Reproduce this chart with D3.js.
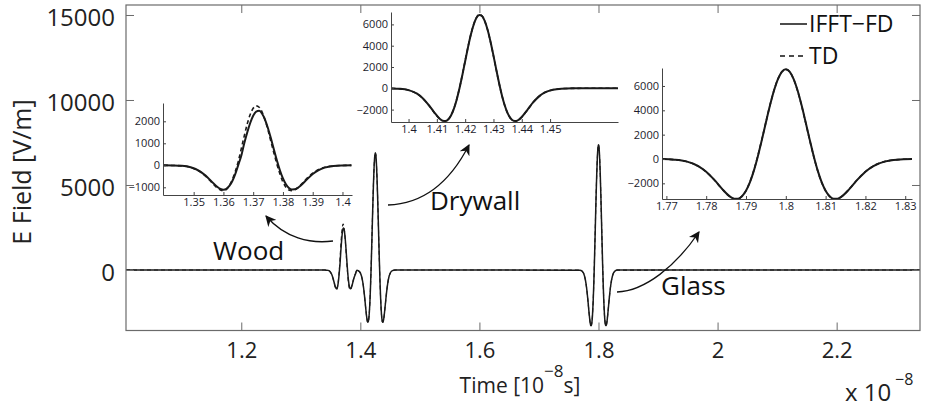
<!DOCTYPE html>
<html>
<head>
<meta charset="utf-8">
<script src="https://cdn.jsdelivr.net/npm/d3@7"></script>
<style>
  body { margin: 0; background: #fff; }
  svg { display: block; font-family: "Open Sans", "Noto Sans", sans-serif; }
</style>
</head>
<body>
<script>
// Time axis values are in units of 1e-8 s, fields in V/m

// Wood reflection (inset 1)
const woodT = [1.340, 1.343, 1.346, 1.349, 1.352, 1.354, 1.356, 1.358, 1.359, 1.360,
  1.361, 1.362, 1.363, 1.364, 1.365, 1.366, 1.367, 1.368, 1.369, 1.370,
  1.371, 1.372, 1.373, 1.374, 1.375, 1.376, 1.377, 1.378, 1.379, 1.380,
  1.381, 1.382, 1.383, 1.384, 1.385, 1.386, 1.388, 1.390, 1.392, 1.394,
  1.397, 1.400, 1.403];
const woodFD = [-3, -8, -24, -89, -263, -468, -732, -986, -1073, -1107,
  -1068, -940, -714, -389, 20, 430, 1000, 1494, 1923, 2250,
  2440, 2475, 2344, 2068, 1675, 1203, 699, 207, -234, -596,
  -862, -1028, -1101, -1094, -1026, -917, -649, -399, -217, -105,
  -29, -8, -2];
const woodTD = [-3, -10, -26, -95, -280, -495, -770, -1040, -1120, -1150,
  -1090, -920, -650, -270, 180, 760, 1330, 1880, 2310, 2590,
  2700, 2640, 2420, 2060, 1590, 1060, 540, 40, -400, -760,
  -1000, -1120, -1150, -1110, -1020, -890, -600, -360, -190, -90,
  -25, -6, -2];

// Drywall reflection (inset 2)
const drywallT = [1.394, 1.397, 1.400, 1.403, 1.405, 1.407, 1.409, 1.411, 1.412, 1.413,
  1.414, 1.415, 1.416, 1.417, 1.418, 1.419, 1.420, 1.421, 1.422, 1.423,
  1.424, 1.425, 1.426, 1.427, 1.428, 1.429, 1.430, 1.431, 1.432, 1.433,
  1.434, 1.435, 1.436, 1.437, 1.438, 1.439, 1.440, 1.442, 1.444, 1.446,
  1.448, 1.451, 1.454, 1.458, 1.464, 1.474];
const drywallFD = [-10, -46, -171, -506, -926, -1525, -2231, -2852, -3035, -3073,
  -2922, -2547, -1931, -1071, 0, 1231, 2543, 3840, 5017, 5970,
  6616, 6889, 6773, 6269, 5430, 4331, 3070, 1751, 477, -666,
  -1614, -2330, -2800, -3037, -3070, -2939, -2690, -2015, -1328, -781,
  -414, -133, -35, -5, 0, 0];
const drywallTD = [-10, -50, -180, -520, -940, -1540, -2250, -2870, -3050, -3080,
  -2930, -2550, -1920, -1050, 30, 1270, 2590, 3880, 5050, 6000,
  6640, 6920, 6790, 6270, 5420, 4310, 3040, 1720, 450, -690,
  -1630, -2350, -2820, -3050, -3080, -2950, -2700, -2020, -1330, -785,
  -415, -135, -36, -5, 0, 0];

// Glass reflection (inset 3)
const glassT = [1.769, 1.772, 1.775, 1.778, 1.780, 1.782, 1.784, 1.786, 1.787, 1.788,
  1.789, 1.790, 1.791, 1.792, 1.793, 1.794, 1.795, 1.796, 1.797, 1.798,
  1.799, 1.800, 1.801, 1.802, 1.803, 1.804, 1.805, 1.806, 1.807, 1.808,
  1.809, 1.810, 1.811, 1.812, 1.813, 1.814, 1.816, 1.818, 1.820, 1.822,
  1.825, 1.828, 1.8317];
const glassFD = [-10, -54, -195, -578, -1045, -1700, -2459, -3095, -3263, -3268,
  -3061, -2610, -1898, -933, 252, 1591, 2998, 4367, 5584, 6543,
  7158, 7370, 7158, 6543, 5584, 4367, 2998, 1591, 252, -933,
  -1898, -2610, -3061, -3268, -3263, -3095, -2459, -1700, -1045, -578,
  -195, -54, -6];
const glassTD = [-10, -56, -200, -585, -1050, -1710, -2470, -3100, -3270, -3270,
  -3050, -2590, -1870, -900, 290, 1630, 3030, 4390, 5600, 6550,
  7160, 7365, 7150, 6530, 5560, 4340, 2970, 1560, 220, -960,
  -1920, -2625, -3070, -3270, -3260, -3090, -2450, -1690, -1040, -575,
  -195, -54, -6];

// Main axes ticks
const xTicksMain = [1.2, 1.4, 1.6, 1.8, 2.0, 2.2];
const yTicksMain = [0, 5000, 10000, 15000];
const xDomainMain = [1.0064, 2.340];
const yDomainMain = [-3559, 15588];

// Annotations
const labels = [
  { text: "Wood", x: 213, y: 260 },
  { text: "Drywall", x: 430, y: 210 },
  { text: "Glass", x: 661, y: 295 }
];

const width = 929;
const height = 408;
const frame = { left: 126, right: 920, top: 5, bottom: 330.5 };

const svg = d3.select("body").append("svg")
  .attr("width", width)
  .attr("height", height);

// arrow marker
svg.append("defs").append("marker")
  .attr("id", "arrow")
  .attr("viewBox", "0 0 10 10")
  .attr("refX", 9)
  .attr("refY", 5)
  .attr("markerWidth", 11)
  .attr("markerHeight", 11)
  .attr("markerUnits", "userSpaceOnUse")
  .attr("orient", "auto")
  .append("path")
  .attr("d", "M0,0 L10,5 L0,10 L3,5 Z")
  .attr("fill", "#111");

// Build the full signal from the three pulses
function pairs(t, v) { return t.map((d, i) => [d, v[i]]); }
function fullSignal(wood, dry, glass) {
  return [[xDomainMain[0], 0]]
    .concat(pairs(woodT, wood).filter(d => d[0] < 1.394))
    .concat(pairs(drywallT, dry))
    .concat(pairs(glassT, glass))
    .concat([[xDomainMain[1], 0]]);
}
const mainFD = fullSignal(woodFD, drywallFD, glassFD);
const mainTD = fullSignal(woodTD, drywallTD, glassTD);

// Main plot
const x = d3.scaleLinear().domain(xDomainMain).range([frame.left, frame.right]);
const y = d3.scaleLinear().domain(yDomainMain).range([frame.bottom, frame.top]);

const line = d3.line()
  .x(d => x(d[0]))
  .y(d => y(d[1]))
  .curve(d3.curveMonotoneX);

svg.append("path")
  .datum(mainFD)
  .attr("d", line)
  .attr("fill", "none")
  .attr("stroke", "#1a1a1a")
  .attr("stroke-width", 1.5);

svg.append("path")
  .datum(mainTD)
  .attr("d", line)
  .attr("fill", "none")
  .attr("stroke", "#1a1a1a")
  .attr("stroke-width", 1.1)
  .attr("stroke-dasharray", "4,3");

// frame
svg.append("rect")
  .attr("x", frame.left)
  .attr("y", frame.top)
  .attr("width", frame.right - frame.left)
  .attr("height", frame.bottom - frame.top)
  .attr("fill", "none")
  .attr("stroke", "#6b6b6b")
  .attr("stroke-width", 1.2);

const fmtX = d => String(+d.toFixed(2));

const xAxis = svg.append("g")
  .attr("transform", `translate(0,${frame.bottom})`)
  .call(d3.axisBottom(x).tickValues(xTicksMain).tickSize(-8).tickPadding(12).tickFormat(fmtX));
xAxis.select(".domain").remove();
xAxis.selectAll("line").attr("stroke", "#6b6b6b");
xAxis.selectAll("text").attr("font-size", 22).attr("fill", "#222").attr("font-family", "Open Sans");

const xAxisTop = svg.append("g")
  .attr("transform", `translate(0,${frame.top})`)
  .call(d3.axisTop(x).tickValues(xTicksMain).tickSize(-8).tickFormat(""));
xAxisTop.select(".domain").remove();
xAxisTop.selectAll("line").attr("stroke", "#6b6b6b");

const yAxis = svg.append("g")
  .attr("transform", `translate(${frame.left},0)`)
  .call(d3.axisLeft(y).tickValues(yTicksMain).tickSize(-8).tickPadding(11).tickFormat(d3.format("d")));
yAxis.select(".domain").remove();
yAxis.selectAll("line").attr("stroke", "#6b6b6b");
yAxis.selectAll("text")
  .attr("font-size", 24)
  .attr("dy", "0.42em")
  .attr("fill", "#222")
  .attr("font-family", "Open Sans");

const yAxisRight = svg.append("g")
  .attr("transform", `translate(${frame.right},0)`)
  .call(d3.axisRight(y).tickValues(yTicksMain).tickSize(-8).tickFormat(""));
yAxisRight.select(".domain").remove();
yAxisRight.selectAll("line").attr("stroke", "#6b6b6b");

// axis labels
svg.append("text")
  .attr("transform", "translate(31,172) rotate(-90)")
  .attr("text-anchor", "middle")
  .attr("font-size", 25)
  .attr("fill", "#222")
  .text("E Field [V/m]");

const xl = svg.append("text")
  .attr("x", 520)
  .attr("y", 393)
  .attr("text-anchor", "middle")
  .attr("font-size", 21)
  .attr("fill", "#222");
xl.append("tspan").text("Time [10");
xl.append("tspan").attr("dy", -16).attr("font-size", 17).text("\u22128");
xl.append("tspan").attr("dy", 16).text("s]");

svg.append("text")
  .attr("x", 845)
  .attr("y", 401)
  .attr("font-size", 24)
  .attr("fill", "#222")
  .text("x 10");
svg.append("text")
  .attr("x", 895)
  .attr("y", 385)
  .attr("font-size", 16)
  .attr("fill", "#222")
  .text("\u22128");

// legend
const legend = [
  { name: "IFFT\u2212FD", dash: null, y: 24 },
  { name: "TD", dash: "5,4", y: 56 }
];
legend.forEach(l => {
  svg.append("line")
    .attr("x1", 780).attr("x2", 807)
    .attr("y1", l.y).attr("y2", l.y)
    .attr("stroke", "#111")
    .attr("stroke-width", 1.5)
    .attr("stroke-dasharray", l.dash);
  svg.append("text")
    .attr("x", 809)
    .attr("y", l.y + 8)
    .attr("font-size", 23)
    .attr("fill", "#111")
    .text(l.name);
});

// Inset plots
function drawInset(o) {
  const ix = d3.scaleLinear().domain(o.xDomain).range([o.left, o.right]);
  const iy = d3.scaleLinear().domain(o.yDomain).range([o.bottom, o.top]);
  const g = svg.append("g");

  const iline = d3.line()
    .x(d => ix(d[0]))
    .y(d => iy(d[1]))
    .curve(d3.curveMonotoneX);

  g.append("path")
    .datum(pairs(o.t, o.fd))
    .attr("d", iline)
    .attr("fill", "none")
    .attr("stroke", "#1a1a1a")
    .attr("stroke-width", 2);

  g.append("path")
    .datum(pairs(o.t, o.td))
    .attr("d", iline)
    .attr("fill", "none")
    .attr("stroke", "#1a1a1a")
    .attr("stroke-width", 1.6)
    .attr("stroke-dasharray", "4,3");

  const ax = g.append("g")
    .attr("transform", `translate(0,${o.bottom})`)
    .call(d3.axisBottom(ix).tickValues(o.xTicks).tickSize(-3).tickSizeOuter(0).tickPadding(3).tickFormat(fmtX));
  const ay = g.append("g")
    .attr("transform", `translate(${o.left},0)`)
    .call(d3.axisLeft(iy).tickValues(o.yTicks).tickSize(-3).tickSizeOuter(0).tickPadding(3).tickFormat(d3.format("d")));
  [ax, ay].forEach(a => {
    a.select(".domain").attr("stroke", "#444").attr("stroke-width", 1);
    a.selectAll("line").attr("stroke", "#444");
    a.selectAll("text").attr("font-size", 11).attr("fill", "#1c1c2c").attr("font-family", "Open Sans");
  });
}

drawInset({
  left: 163, right: 352, top: 103, bottom: 195,
  xDomain: [1.3397, 1.4032], yDomain: [-1350, 2832],
  xTicks: [1.35, 1.36, 1.37, 1.38, 1.39, 1.40],
  yTicks: [-1000, 0, 1000, 2000],
  t: woodT, fd: woodFD, td: woodTD
});
drawInset({
  left: 391, right: 618, top: 12, bottom: 122,
  xDomain: [1.3938, 1.474], yDomain: [-3164, 7164],
  xTicks: [1.40, 1.41, 1.42, 1.43, 1.44, 1.45],
  yTicks: [-2000, 0, 2000, 4000, 6000],
  t: drywallT, fd: drywallFD, td: drywallTD
});
drawInset({
  left: 662, right: 912, top: 68, bottom: 199,
  xDomain: [1.7689, 1.8317], yDomain: [-3287, 7477],
  xTicks: [1.77, 1.78, 1.79, 1.80, 1.81, 1.82, 1.83],
  yTicks: [-2000, 0, 2000, 4000, 6000],
  t: glassT, fd: glassFD, td: glassTD
});

// annotation arrows
const arrows = [
  "M333,241 C310,244 285,238 266,216",
  "M388,205 C420,204 448,186 469,145",
  "M617,292 C645,291 676,266 699,232"
];
arrows.forEach(a => {
  svg.append("path")
    .attr("d", a)
    .attr("fill", "none")
    .attr("stroke", "#111")
    .attr("stroke-width", 1.3)
    .attr("marker-end", "url(#arrow)");
});

labels.forEach(l => {
  svg.append("text")
    .attr("x", l.x)
    .attr("y", l.y)
    .attr("font-size", 26)
    .attr("fill", "#111")
    .text(l.text);
});
</script>
</body>
</html>
